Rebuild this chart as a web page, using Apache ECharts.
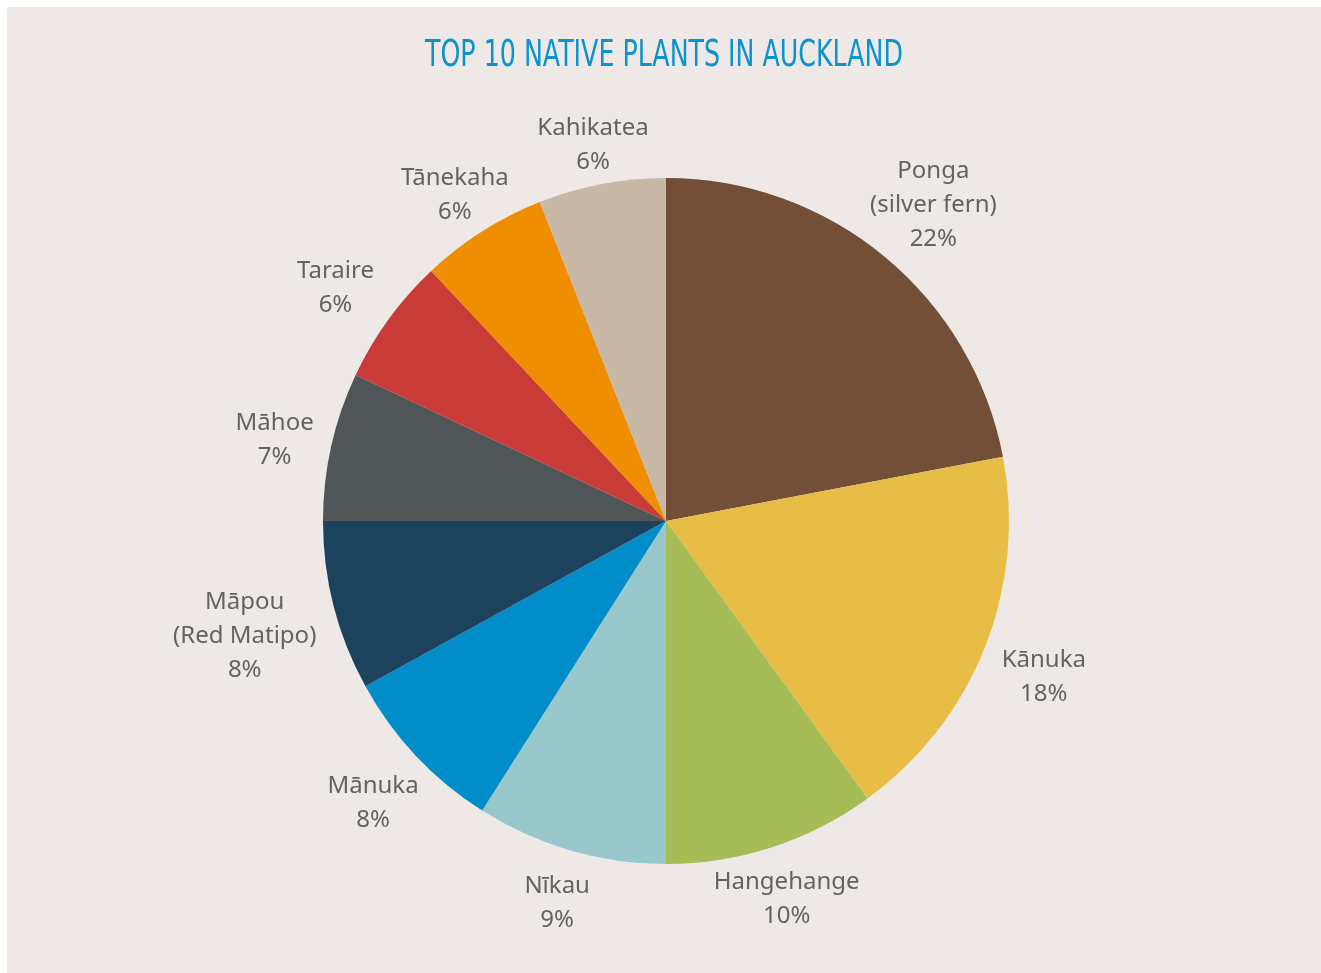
<!DOCTYPE html>
<html>
<head>
<meta charset="utf-8">
<script src="https://cdn.jsdelivr.net/npm/echarts@6/dist/echarts.min.js"></script>
<style>
  html, body { margin: 0; padding: 0; background: #ffffff; }
  #chart { position: absolute; left: 7px; top: 7px; width: 1314px; height: 966px; background: #EEE9E6; }
</style>
</head>
<body>
<div id="chart"></div>
<script>
const titleText = 'TOP 10 NATIVE PLANTS IN AUCKLAND';
const plantNames = ['Ponga\n(silver fern)', 'Kānuka', 'Hangehange', 'Nīkau', 'Mānuka',
  'Māpou\n(Red Matipo)', 'Māhoe', 'Taraire', 'Tānekaha', 'Kahikatea'];
const plantShares = [22, 18, 10, 9, 8, 8, 7, 6, 6, 6];
const sliceColors = ['#744F37', '#E8BD46', '#A6BD57', '#98C8CB', '#008DC9',
  '#1D425E', '#505558', '#C83B36', '#EE8E00', '#C8B8A6'];

const chart = echarts.init(document.getElementById('chart'), null, { renderer: 'canvas' });
const CX = 659, CY = 514, R = 343, GAP = 18, TEXT_DY = 7;
const LABEL_FONT = '24px "Noto Sans", "Open Sans", sans-serif';
const LABEL_LH = 34;
const total = plantShares.reduce((a, b) => a + b, 0);

const mctx = document.createElement('canvas').getContext('2d');
function textWidth(str, font) { mctx.font = font; return mctx.measureText(str).width; }

// mid-angle of each slice (clockwise from 12 o'clock, same convention as the pie below)
function midAngle(i) {
  let cum = 0;
  for (let k = 0; k < i; k++) cum += plantShares[k];
  return (cum + plantShares[i] / 2) / total * Math.PI * 2;
}

// data labels placed just outside each slice, along its mid-angle, lines centred
const labelGraphics = plantNames.map(function (name, i) {
  const lines = name.split('\n').concat([plantShares[i] + '%']);
  const w = Math.max.apply(null, lines.map(s => textWidth(s, LABEL_FONT)));
  const hw = w / 2, hh = lines.length * LABEL_LH / 2 - 6;
  const a = midAngle(i);
  const s = Math.sin(a), c = Math.cos(a);
  const ext = Math.min(Math.abs(s) > 1e-6 ? hw / Math.abs(s) : 1e9,
                       Math.abs(c) > 1e-6 ? hh / Math.abs(c) : 1e9);
  const d = R + GAP + ext;
  return {
    type: 'text',
    x: CX + d * s,
    y: CY - d * c + TEXT_DY,
    silent: true,
    style: {
      text: lines.join('\n'),
      font: LABEL_FONT,
      lineHeight: LABEL_LH,
      fill: '#636363',
      align: 'center',
      verticalAlign: 'middle'
    }
  };
});

// condensed title: measure natural width, squeeze horizontally to the target width
const TITLE_FONT = '38px "DejaVu Sans"';
const titleScaleX = 478 / textWidth(titleText, TITLE_FONT);

chart.setOption({
  backgroundColor: '#EEE9E6',
  animation: false,
  graphic: [{
    type: 'text',
    x: 657,
    y: 49,
    scaleX: titleScaleX,
    silent: true,
    style: {
      text: titleText,
      font: TITLE_FONT,
      fill: '#0A93CF',
      align: 'center',
      verticalAlign: 'middle'
    }
  }].concat(labelGraphics),
  series: [{
    type: 'pie',
    center: [CX, CY],
    radius: [0, R],
    startAngle: 90,
    clockwise: true,
    data: plantNames.map((n, i) => ({ name: n, value: plantShares[i], itemStyle: { color: sliceColors[i] } })),
    itemStyle: { borderWidth: 0 },
    label: { show: false },
    labelLine: { show: false },
    emphasis: { disabled: true }
  }]
});
</script>
</body>
</html>
